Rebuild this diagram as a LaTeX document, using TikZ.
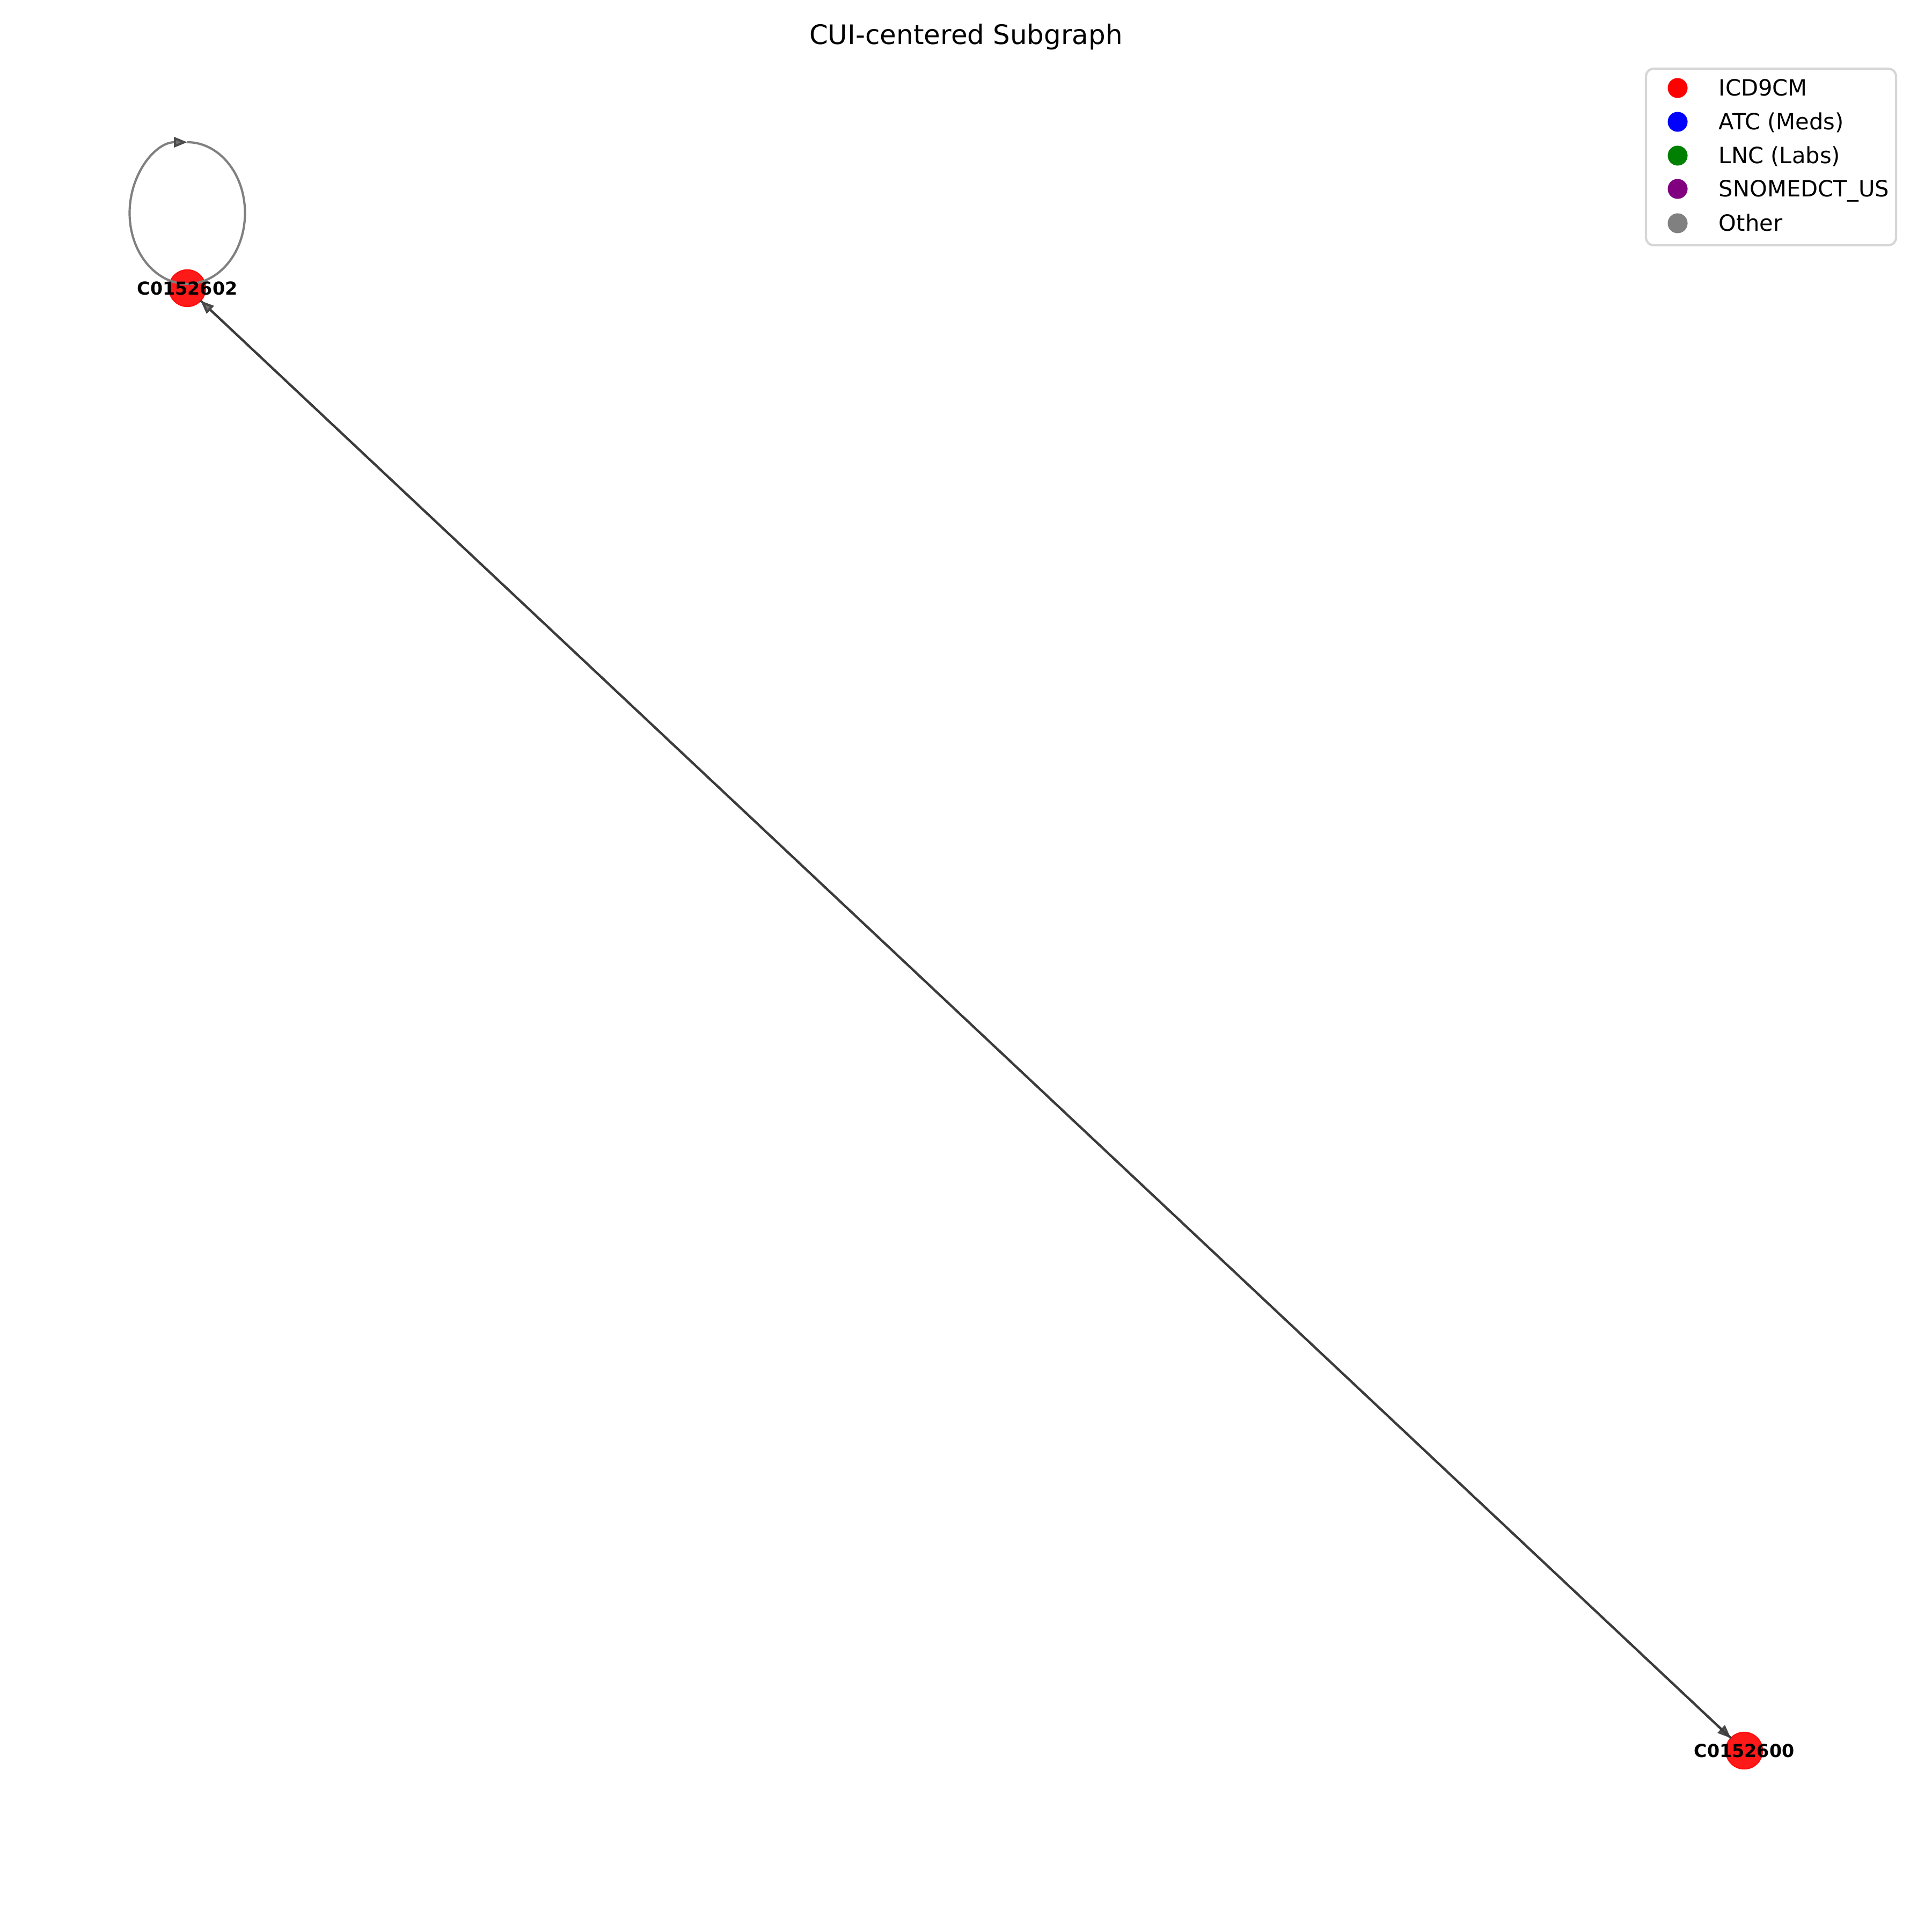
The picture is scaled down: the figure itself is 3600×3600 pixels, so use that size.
\documentclass[tikz,border=0pt]{standalone}
\usepackage{fontspec}
\setmainfont{DejaVu Sans}
\usetikzlibrary{arrows.meta,calc}
\definecolor{nodered}{HTML}{FF1A1A}
\definecolor{noderim}{HTML}{FF0D0D}
\definecolor{mainedge}{HTML}{3C3C3C}
\definecolor{loopedge}{HTML}{808080}
\definecolor{legframe}{HTML}{D6D6D6}
\definecolor{legred}{HTML}{FF0000}
\definecolor{legblue}{HTML}{0000FF}
\definecolor{leggreen}{HTML}{008000}
\definecolor{legpurple}{HTML}{800080}
\definecolor{leggray}{HTML}{808080}
\begin{document}
\begin{tikzpicture}[x=0.24pt,y=-0.24pt,
  cuinode/.style={circle,fill=nodered,draw=noderim,line width=0.6pt,minimum size=16.3pt,inner sep=0pt,outer sep=0pt},
  cuilabel/.style={font=\bfseries\fontsize{8}{9}\selectfont,text=black,inner sep=0pt},
  dirn/.style={draw=mainedge,line width=1pt,-{Triangle[length=6pt,width=4.6pt,color=black!72,fill=black!55]}},
  selfloop/.style={draw=loopedge,line width=1pt},
  looptip/.style={-{Triangle[length=6pt,width=4.6pt,color=black!70,fill=black!55]}},
  legdot/.style={circle,minimum size=8.9pt,inner sep=0pt,outer sep=0pt},
  legtext/.style={anchor=base west,font=\fontsize{10}{12}\selectfont,inner sep=0pt}]
\fill[white] (0,0) rectangle (3600,3600);
\useasboundingbox (0,0) rectangle (3600,3600);
% title
\node[anchor=base,font=\fontsize{12}{14}\selectfont,inner sep=0pt] (title) at (1800,83) {CUI-centered Subgraph};
% nodes
\node[cuinode] (n1) at (349,537) {};
\node[cuinode] (n2) at (3250,3262) {};
% edges
\draw[dirn] (n1) -- (n2);
\draw[dirn] (n2) -- (n1);
% self loop
\draw[selfloop,looptip] ($(n1.center)+(0,-8)$) arc[start angle=90,end angle=270,x radius=107.5,y radius=132];
\draw[selfloop] ($(n1.center)+(0,-272)$) arc[start angle=270,end angle=450,x radius=107.5,y radius=132];
% labels
\node[cuilabel] (l1) at (n1) {C0152602};
\node[cuilabel] (l2) at (n2) {C0152600};
% legend
\draw[legframe,fill=white,line width=1pt,rounded corners=3.5pt] (3067,128) rectangle (3533,457);
\node[legdot,fill=legred] (d1) at (3126,164) {};
\node[legdot,fill=legblue] (d2) at (3126,227) {};
\node[legdot,fill=leggreen] (d3) at (3126,290) {};
\node[legdot,fill=legpurple] (d4) at (3126,352) {};
\node[legdot,fill=leggray] (d5) at (3126,416) {};
\node[legtext] (t1) at (3202,179) {ICD9CM};
\node[legtext] (t2) at (3202,242) {ATC (Meds)};
\node[legtext] (t3) at (3202,305) {LNC (Labs)};
\node[legtext] (t4) at (3202,367) {SNOMEDCT\_US};
\node[legtext] (t5) at (3202,431) {Other};
\end{tikzpicture}
\end{document}
